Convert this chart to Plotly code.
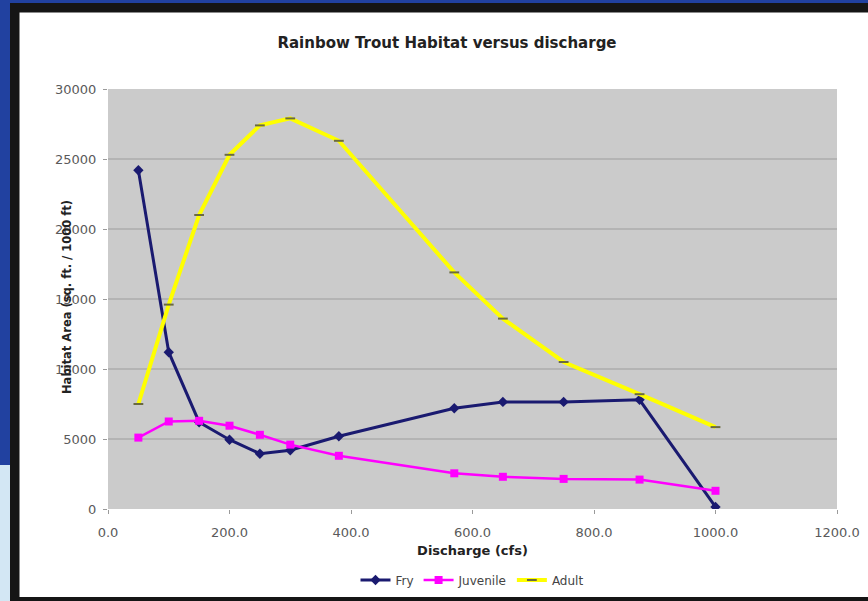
import plotly.graph_objects as go

# Habitat area (sq. ft. / 1000 ft) by discharge (cfs) for each life stage
discharge = [50, 100, 150, 200, 250, 300, 380, 570, 650, 750, 875, 1000]
fry = [24200, 11200, 6200, 4950, 3950, 4200, 5200, 7200, 7650, 7650, 7800, 150]
juvenile = [5100, 6250, 6300, 5950, 5300, 4600, 3800, 2550, 2300, 2150, 2100, 1300]
adult = [7500, 14600, 21000, 25300, 27400, 27900, 26300, 16900, 13600, 10500, 8200, 5850]

x_ticks = [0, 200, 400, 600, 800, 1000, 1200]
x_tick_text = ["0.0", "200.0", "400.0", "600.0", "800.0", "1000.0", "1200.0"]
y_ticks = [0, 5000, 10000, 15000, 20000, 25000, 30000]
y_tick_text = ["0", "5000", "10000", "15000", "20000", "25000", "30000"]

W, H = 868, 601
L, R, T, B = 108, 837, 89, 509  # plot area box in pixels


def px(xpix):
    return (xpix - L) / (R - L)


def py(ypix):
    return (B - ypix) / (B - T)


fig = go.Figure()

fig.add_trace(go.Scatter(
    x=discharge, y=fry, name="Fry", mode="lines+markers",
    line=dict(color="#1a1a70", width=3),
    marker=dict(symbol="diamond", size=8, color="#1a1a70"),
))
fig.add_trace(go.Scatter(
    x=discharge, y=juvenile, name="Juvenile", mode="lines+markers",
    line=dict(color="#ff00ff", width=2.5),
    marker=dict(symbol="square", size=8, color="#ff00ff"),
))
fig.add_trace(go.Scatter(
    x=discharge, y=adult, name="Adult", mode="lines+markers",
    line=dict(color="#ffff00", width=4),
    marker=dict(symbol="line-ew", size=7, color="#6a6a40",
                line=dict(color="#6a6a40", width=2)),
))

shapes = [
    # slide frame
    dict(type="rect", xref="paper", yref="paper", layer="below",
         x0=px(10), x1=px(W + 5), y0=py(3), y1=py(H + 5),
         fillcolor="#151515", line=dict(width=0)),
    dict(type="rect", xref="paper", yref="paper", layer="below",
         x0=px(-5), x1=px(10), y0=py(465), y1=py(H + 5),
         fillcolor="#d3e7f4", line=dict(width=0)),
    # white chart area
    dict(type="rect", xref="paper", yref="paper", layer="below",
         x0=px(19.5), x1=px(W + 5), y0=py(12.5), y1=py(597),
         fillcolor="#ffffff", line=dict(width=0)),
    # grey plot area
    dict(type="rect", xref="paper", yref="paper", layer="below",
         x0=0, x1=1, y0=0, y1=1,
         fillcolor="#cbcbcb", line=dict(width=0)),
]

fig.update_layout(
    width=W, height=H,
    margin=dict(l=L, r=W - R, t=T, b=H - B, autoexpand=False),
    paper_bgcolor="#2141a0",
    plot_bgcolor="rgba(0,0,0,0)",
    shapes=shapes,
    font=dict(family="DejaVu Sans", color="#555555"),
    title=dict(
        text="<b>Rainbow Trout Habitat versus discharge</b>",
        font=dict(size=15, color="#222222"),
        x=px(447), xref="paper", xanchor="center",
        y=1 - 43 / H, yanchor="middle",
    ),
    xaxis=dict(
        range=[0, 1200], tickvals=x_ticks, ticktext=x_tick_text,
        showgrid=False, zeroline=False, showline=False,
        ticks="outside", ticklen=4, tickcolor="#9a9a9a",
        tickfont=dict(size=13, color="#5a5a5a"),
        ticklabelstandoff=7,
        title=dict(text="<b>Discharge (cfs)</b>",
                   font=dict(size=13, color="#222222"), standoff=7),
    ),
    yaxis=dict(
        range=[0, 30000], tickvals=y_ticks, ticktext=y_tick_text,
        showgrid=True, gridcolor="#b4b4b4", gridwidth=1.5,
        zeroline=False, showline=False,
        ticks="outside", ticklen=4, tickcolor="#9a9a9a",
        tickfont=dict(size=13, color="#5a5a5a"),
        ticklabelstandoff=4,
    ),
    legend=dict(
        orientation="h", x=px(472), xanchor="center",
        y=py(580), yanchor="middle",
        font=dict(size=12, color="#444444"),
        bgcolor="rgba(0,0,0,0)", itemwidth=30,
    ),
    annotations=[
        dict(text="<b>Habitat Area (sq. ft. / 1000 ft)</b>",
             textangle=-90, xref="paper", yref="paper",
             x=px(67), y=py(297), showarrow=False,
             xanchor="center", yanchor="middle",
             font=dict(size=11.5, color="#222222")),
    ],
)

fig.write_html("out.html")
